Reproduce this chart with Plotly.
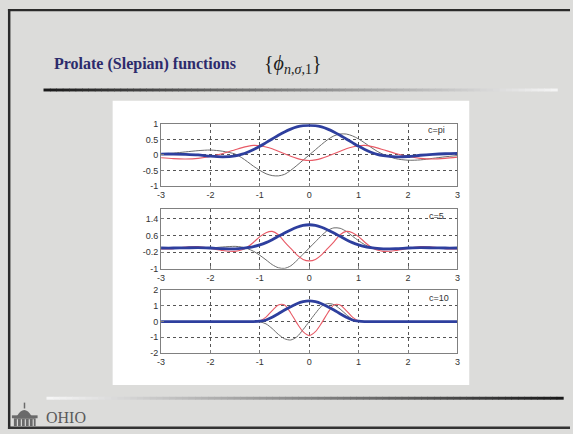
import plotly.graph_objects as go

W, H = 573, 434

# sample positions shared by all curves
X = [-3, -2.75, -2.5, -2.25, -2, -1.75, -1.5, -1.375, -1.25, -1.125, -1,
     -0.875, -0.75, -0.625, -0.5, -0.375, -0.25, -0.125, 0, 0.125, 0.25,
     0.375, 0.5, 0.625, 0.75, 0.875, 1, 1.125, 1.25, 1.375, 1.5, 1.75, 2,
     2.25, 2.5, 2.75, 3]

# c = pi
pi_n0 = [0.03, 0.03, 0.02, 0.0, -0.04, -0.06, -0.03, 0.02, 0.09, 0.18, 0.28,
         0.40, 0.52, 0.64, 0.75, 0.84, 0.91, 0.95, 0.96, 0.95, 0.91, 0.84,
         0.75, 0.64, 0.52, 0.40, 0.28, 0.18, 0.09, 0.02, -0.02, -0.06, -0.05,
         -0.01, 0.02, 0.04, 0.05]
pi_n1 = [0.02, 0.06, 0.10, 0.14, 0.16, 0.12, 0.03, -0.08, -0.22, -0.37, -0.50,
         -0.61, -0.67, -0.68, -0.63, -0.50, -0.34, -0.17, 0.0, 0.17, 0.34, 0.50,
         0.62, 0.68, 0.68, 0.62, 0.52, 0.39, 0.25, 0.12, 0.02, -0.12, -0.17,
         -0.16, -0.11, -0.06, -0.02]
pi_n2 = [-0.09, -0.12, -0.13, -0.11, -0.05, 0.05, 0.17, 0.23, 0.28, 0.31, 0.30,
         0.26, 0.20, 0.12, 0.04, -0.04, -0.11, -0.16, -0.18, -0.16, -0.11,
         -0.04, 0.04, 0.12, 0.20, 0.26, 0.30, 0.31, 0.28, 0.23, 0.17, 0.05,
         -0.05, -0.11, -0.13, -0.11, -0.07]

# c = 5
c5_n0 = [0.0, 0.0, 0.01, 0.02, 0.0, -0.03, -0.04, -0.02, 0.02, 0.07, 0.15,
         0.26, 0.40, 0.56, 0.72, 0.87, 1.00, 1.09, 1.12, 1.09, 1.00, 0.87,
         0.72, 0.56, 0.40, 0.26, 0.15, 0.07, 0.02, -0.02, -0.04, -0.03, 0.0,
         0.02, 0.01, 0.0, 0.0]
c5_n1 = [0.0, 0.0, -0.01, -0.02, 0.0, 0.05, 0.08, 0.05, -0.03, -0.16, -0.35,
         -0.57, -0.80, -0.95, -0.98, -0.86, -0.60, -0.30, 0.0, 0.30, 0.60, 0.85,
         0.97, 0.95, 0.80, 0.57, 0.35, 0.16, 0.03, -0.05, -0.08, -0.05, 0.0,
         0.02, 0.01, 0.0, 0.0]
c5_n2 = [-0.05, -0.03, 0.05, 0.07, -0.02, -0.12, -0.16, -0.10, 0.05, 0.28, 0.55,
         0.74, 0.80, 0.64, 0.30, -0.02, -0.33, -0.55, -0.62, -0.55, -0.33, -0.02,
         0.30, 0.64, 0.80, 0.74, 0.55, 0.28, 0.05, -0.10, -0.16, -0.12, -0.02,
         0.07, 0.05, -0.03, -0.05]

# c = 10
c10_n0 = [0.0, 0.0, 0.0, 0.0, 0.0, 0.0, 0.0, 0.0, 0.0, 0.0, 0.02,
          0.10, 0.28, 0.50, 0.74, 0.95, 1.14, 1.27, 1.32, 1.27, 1.14, 0.95,
          0.74, 0.50, 0.28, 0.10, 0.02, 0.0, 0.0, 0.0, 0.0, 0.0, 0.0,
          0.0, 0.0, 0.0, 0.0]
c10_n1 = [0.0, 0.0, 0.0, 0.0, 0.0, 0.0, 0.0, 0.0, 0.0, 0.0, -0.02,
          -0.15, -0.45, -0.82, -1.10, -1.18, -0.98, -0.52, 0.0, 0.52, 0.98, 1.15,
          1.08, 0.80, 0.45, 0.15, 0.02, 0.0, 0.0, 0.0, 0.0, 0.0, 0.0,
          0.0, 0.0, 0.0, 0.0]
c10_n2 = [0.0, 0.0, 0.0, 0.0, 0.0, 0.0, 0.0, 0.0, 0.0, 0.0, 0.04,
          0.28, 0.70, 1.06, 1.06, 0.55, -0.10, -0.65, -0.90, -0.65, -0.10, 0.55,
          1.06, 1.06, 0.70, 0.28, 0.04, 0.0, 0.0, 0.0, 0.0, 0.0, 0.0,
          0.0, 0.0, 0.0, 0.0]

x_ticks = [-3, -2, -1, 0, 1, 2, 3]
y_ticks_pi = [-1, -0.5, 0, 0.5, 1]
y_ticks_c5 = [-1, -0.2, 0.6, 1.4]
y_ticks_c10 = [-2, -1, 0, 1, 2]
panel_labels = ["c=pi", "c=5", "c=10"]


def px(x):
    return x / W


def py(y):
    return 1 - y / H


def rect(x0, y0, x1, y1, color, layer="below"):
    return dict(type="rect", xref="paper", yref="paper",
                x0=px(x0), x1=px(x1), y0=py(y1), y1=py(y0),
                fillcolor=color, line=dict(width=0), layer=layer)


def tick_text(vals):
    return [("%g" % v) for v in vals]


BLUE = "#2e3f9e"
GREY = "#6c6c6c"
RED = "#e85a66"

fig = go.Figure()

panels = [
    ("x", "y", pi_n1, pi_n2, pi_n0),
    ("x2", "y2", c5_n1, c5_n2, c5_n0),
    ("x3", "y3", c10_n1, c10_n2, c10_n0),
]
for xa, ya, odd, even2, even0 in panels:
    fig.add_trace(go.Scatter(x=X, y=odd, xaxis=xa, yaxis=ya, mode="lines",
                             line=dict(color=GREY, width=1, shape="spline", smoothing=0.8)))
    fig.add_trace(go.Scatter(x=X, y=even2, xaxis=xa, yaxis=ya, mode="lines",
                             line=dict(color=RED, width=1.1, shape="spline", smoothing=0.8)))
    fig.add_trace(go.Scatter(x=X, y=even0, xaxis=xa, yaxis=ya, mode="lines",
                             line=dict(color=BLUE, width=2.8, shape="spline", smoothing=0.8)))

tick_font = dict(family="Liberation Sans, Arial, sans-serif", size=9, color="#333333")
common = dict(showline=True, mirror=True, linecolor="#808080", linewidth=1,
              ticks="inside", ticklen=3, tickcolor="#808080",
              showgrid=True, gridcolor="#555555", griddash="dot", gridwidth=1,
              zeroline=False, tickfont=tick_font, fixedrange=True)

# axis boxes in pixels: (top, bottom)
boxes = [(122, 185), (209, 270), (292, 356)]
y_ranges = [[-1, 1], [-1, 1.87], [-2, 2]]
y_tick_sets = [y_ticks_pi, y_ticks_c5, y_ticks_c10]
x_dom = [px(159), px(459)]

layout_axes = {}
for i, ((top, bot), yr, yt) in enumerate(zip(boxes, y_ranges, y_tick_sets)):
    sfx = "" if i == 0 else str(i + 1)
    layout_axes["xaxis" + sfx] = dict(domain=x_dom, range=[-3, 3], anchor="y" + sfx,
                                      tickvals=x_ticks, ticktext=tick_text(x_ticks), **common)
    layout_axes["yaxis" + sfx] = dict(domain=[py(bot), py(top)], range=yr, anchor="x" + sfx,
                                      tickvals=yt, ticktext=tick_text(yt), **common)

shapes = []
# white figure panel
shapes.append(rect(110, 98, 471, 389, "#ffffff"))
# slide frame
shapes.append(rect(4, 4, W, 6.5, "#2a2a2a"))
shapes.append(rect(4, 4, 6.5, H, "#2a2a2a"))
shapes.append(rect(4, 431.5, W, H, "#333333"))


def lerp_hex(a, b, t):
    ca = [int(a[i:i + 2], 16) for i in (1, 3, 5)]
    cb = [int(b[i:i + 2], 16) for i in (1, 3, 5)]
    return "#%02x%02x%02x" % tuple(round(ca[k] + (cb[k] - ca[k]) * t) for k in range(3))


def gradient_bar(x0, x1, y0, y1, c0, c1, n=80):
    step = (x1 - x0) / n
    out = []
    for k in range(n):
        out.append(rect(x0 + k * step, y0, x0 + (k + 1) * step + 0.6, y1,
                        lerp_hex(c0, c1, k / (n - 1)), layer="above"))
    return out


# rule under the title (dark -> light) and above the footer (light -> dark)
shapes += gradient_bar(40, 560, 85.5, 88.5, "#1a1a1a", "#f4f4f4")
shapes += gradient_bar(43, 566, 401, 404, "#f6f6f6", "#1a1a1a")

# small university emblem in the footer
emb = "#6a6a6a"
shapes.append(dict(type="path", xref="paper", yref="paper", layer="above",
                   path="M %f %f Q %f %f %f %f Z" % (px(13), py(421), px(20.5), py(408),
                                                      px(28), py(421)),
                   fillcolor=emb, line=dict(width=0)))
shapes.append(rect(20, 407, 21.5, 413, emb, layer="above"))
shapes.append(rect(8, 420, 34, 423, emb, layer="above"))
shapes.append(rect(10, 423, 32, 431, emb, layer="above"))
for cx in (13, 17, 21, 25, 29):
    shapes.append(rect(cx, 424, cx + 1.2, 431, "#d8d8d6", layer="above"))

annotations = [
    dict(text="<b>Prolate (Slepian) functions</b>", x=px(49), y=py(60),
         xanchor="left", yanchor="middle",
         font=dict(family="Liberation Serif, Times New Roman, serif", size=16, color="#2c2b6c")),
    dict(text="{<i>ϕ</i><sub><i>n</i>,<i>σ</i>,1</sub>}", x=px(261), y=py(61),
         xanchor="left", yanchor="middle",
         font=dict(family="Liberation Serif, Times New Roman, serif", size=20, color="#1c1c1c")),
    dict(text="OHIO", x=px(41), y=py(422), xanchor="left", yanchor="middle",
         font=dict(family="Liberation Serif, Times New Roman, serif", size=16, color="#5a5a5a")),
]
label_pos = [(438, 128), (438, 216), (440, 300)]
for txt, (lx, ly) in zip(panel_labels, label_pos):
    annotations.append(dict(text=txt, x=px(lx), y=py(ly), xanchor="center", yanchor="middle",
                            font=dict(family="Liberation Sans, Arial, sans-serif", size=9,
                                      color="#333333")))
for a in annotations:
    a.update(xref="paper", yref="paper", showarrow=False)

fig.update_layout(
    width=W, height=H, margin=dict(l=0, r=0, t=0, b=0),
    paper_bgcolor="#dcdcda", plot_bgcolor="#ffffff",
    showlegend=False, shapes=shapes, annotations=annotations,
    **layout_axes,
)

fig.write_html("out.html", config={"displayModeBar": False})
